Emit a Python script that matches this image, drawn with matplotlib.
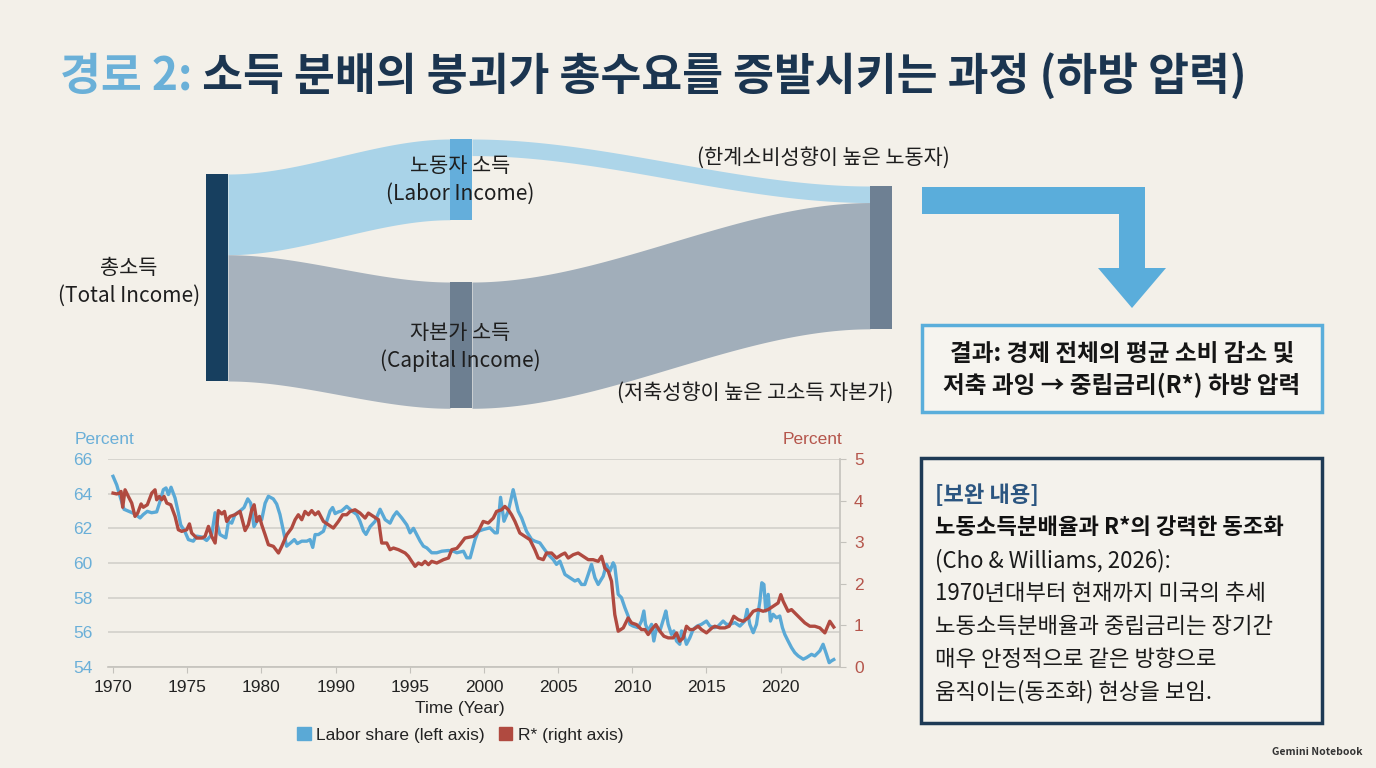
import numpy as np
import matplotlib
matplotlib.use('Agg')
import matplotlib.pyplot as plt
from matplotlib.patches import Rectangle, Polygon, Patch

plt.rcParams['font.family'] = ['Noto Sans CJK KR', 'DejaVu Sans']

W, H = 1376, 768
BG = '#F3F0E9'

# --- sankey data (income flows, % of total income) ---
flow_src = ['total', 'total', 'labor', 'capital']
flow_dst = ['labor', 'capital', 'consume', 'consume']
flow_val = [39, 61, 8, 61]
flow_col = ['#A9D3E8', '#A7B2BD', '#ADD5E9', '#A1AEBA']

# --- line chart data (x: position on the axis, 5 years per tick) ---
tick_labels = ['1970', '1975', '1980', '1990', '1995', '2000', '2005', '2010', '2015', '2020']

labor_x = [
    1970.0, 1970.25, 1970.47, 1970.74, 1971.15, 1971.48, 1971.82, 1972.04, 1972.31, 1972.6,
    1972.94, 1973.17, 1973.39, 1973.57, 1973.73, 1973.91, 1974.18, 1974.4, 1974.56, 1974.85,
    1975.08, 1975.41, 1975.64, 1975.98, 1976.31, 1976.65, 1976.88, 1977.03, 1977.21, 1977.6,
    1977.78, 1978.0, 1978.22, 1978.56, 1978.83, 1979.08, 1979.28, 1979.5, 1979.75, 1980.02,
    1980.25, 1980.47, 1980.8, 1981.03, 1981.25, 1981.48, 1981.7, 1981.97, 1982.22, 1982.42,
    1982.72, 1983.06, 1983.28, 1983.46, 1983.62, 1983.84, 1984.18, 1984.4, 1984.63, 1984.8,
    1984.97, 1985.19, 1985.4, 1985.75, 1986.1, 1986.43, 1986.65, 1986.88, 1987.05, 1987.33,
    1987.66, 1988.0, 1988.34, 1988.67, 1988.9, 1989.12, 1989.46, 1989.8, 1990.02, 1990.25,
    1990.47, 1990.7, 1990.92, 1991.15, 1991.48, 1991.82, 1992.16, 1992.6, 1992.94, 1993.17,
    1993.62, 1993.84, 1994.07, 1994.4, 1994.62, 1994.95, 1995.4, 1995.74, 1995.9, 1996.12,
    1996.35, 1996.64, 1996.97, 1997.31, 1997.54, 1997.87, 1998.21, 1998.43, 1998.77, 1999.0,
    1999.33, 1999.67, 1999.89, 2000.12, 2000.46, 2000.79, 2001.13, 2001.35, 2001.58, 2001.8,
    2002.03, 2002.25, 2002.48, 2002.7, 2003.04, 2003.26, 2003.49, 2003.71, 2003.82, 2004.05,
    2004.27, 2004.5, 2004.72, 2004.84, 2005.06, 2005.4, 2005.62, 2005.78, 2005.89, 2006.07,
    2006.3, 2006.45, 2006.63, 2006.86, 2007.13, 2007.26, 2007.42, 2007.64, 2007.8, 2007.98,
    2008.2, 2008.32, 2008.47, 2008.65, 2008.88, 2009.1, 2009.37, 2009.66, 2010.0, 2010.23,
    2010.56, 2010.79, 2011.12, 2011.35, 2011.57, 2011.91, 2012.25, 2012.58, 2012.74, 2012.92,
    2013.15, 2013.37, 2013.6, 2013.73, 2013.87, 2014.0, 2014.16, 2014.31, 2014.49, 2014.72,
    2014.94, 2015.12, 2015.28, 2015.5, 2015.73, 2015.95, 2016.18, 2016.52, 2016.74, 2017.08,
    2017.3, 2017.64, 2017.86, 2018.09, 2018.27, 2018.42, 2018.58]
labor_share = [
    65.0, 64.5, 63.85, 63.1, 62.95, 62.83, 62.6, 62.8, 62.98, 62.9,
    62.95, 63.56, 64.23, 64.33, 63.95, 64.37, 63.75, 62.9, 62.2, 61.8,
    61.35, 61.26, 61.55, 61.5, 61.3, 61.64, 62.9, 62.2, 61.64, 61.45,
    62.4, 62.3, 62.8, 63.0, 63.2, 63.7, 63.45, 62.1, 62.5, 62.5,
    63.45, 63.85, 63.7, 63.4, 62.8, 61.85, 60.97, 61.16, 61.35, 61.12,
    61.26, 61.26, 61.35, 60.9, 61.64, 61.64, 61.83, 62.4, 63.0, 63.2,
    62.85, 62.95, 63.0, 63.27, 63.0, 62.8, 62.4, 61.85, 61.65, 62.1,
    62.4, 63.1, 62.5, 62.3, 62.7, 62.95, 62.6, 62.2, 61.74, 62.0,
    61.64, 61.26, 60.97, 60.87, 60.59, 60.59, 60.68, 60.72, 60.68, 60.59,
    60.68, 60.3, 60.3, 61.35, 61.83, 61.93, 62.03, 61.74, 61.74, 63.79,
    62.41, 62.99, 64.23, 62.99, 62.6, 61.83, 61.36, 61.26, 61.16, 60.88,
    60.49, 60.2, 59.92, 60.11, 59.34, 59.15, 58.96, 59.05, 58.76, 58.76,
    59.34, 59.92, 59.15, 58.76, 59.24, 59.92, 59.53, 60.01, 59.82, 58.19,
    58.0, 57.42, 56.94, 56.46, 56.36, 56.27, 56.65, 57.23, 56.46, 56.08,
    56.46, 55.5, 56.27, 56.08, 56.84, 57.23, 56.46, 55.88, 56.08, 55.5,
    55.31, 56.08, 55.88, 55.31, 55.69, 56.17, 56.36, 56.46, 56.65, 56.36,
    56.27, 56.36, 56.65, 56.46, 56.46, 56.56, 56.36, 56.65, 57.32, 56.46,
    55.98, 56.46, 57.8, 58.86, 58.76, 57.23, 58.19, 56.65, 57.04, 56.84,
    56.94, 56.27, 55.88, 55.5, 55.12, 54.83, 54.64, 54.45, 54.54, 54.73,
    54.64, 54.93, 55.31, 54.73, 54.25, 54.35, 54.43]

rstar_x = [
    1970.0, 1970.25, 1970.43, 1970.54, 1970.65, 1970.81, 1971.03, 1971.26, 1971.48, 1971.66,
    1971.89, 1972.04, 1972.31, 1972.61, 1972.83, 1972.94, 1973.12, 1973.28, 1973.44, 1973.62,
    1973.89, 1974.18, 1974.4, 1974.63, 1974.97, 1975.15, 1975.3, 1975.64, 1975.98, 1976.2,
    1976.43, 1976.65, 1976.88, 1977.1, 1977.33, 1977.51, 1977.66, 1977.89, 1978.22, 1978.56,
    1978.9, 1979.12, 1979.35, 1979.51, 1979.69, 1979.87, 1980.02, 1980.25, 1980.47, 1980.81,
    1981.15, 1981.37, 1981.71, 1982.04, 1982.27, 1982.49, 1982.72, 1982.94, 1983.17, 1983.39,
    1983.62, 1983.84, 1984.18, 1984.52, 1984.85, 1985.19, 1985.48, 1985.75, 1985.98, 1986.31,
    1986.65, 1986.99, 1987.21, 1987.55, 1987.89, 1988.11, 1988.45, 1988.67, 1988.9, 1989.24,
    1989.46, 1989.69, 1989.91, 1990.13, 1990.36, 1990.58, 1990.81, 1991.03, 1991.26, 1991.48,
    1991.82, 1992.04, 1992.27, 1992.61, 1992.83, 1993.17,
    1993.38, 1993.72, 1994.28, 1994.62, 1994.95, 1995.29, 1995.63, 1995.85, 1996.19, 1996.41,
    1996.64, 1996.86, 1997.09, 1997.42, 1997.76, 1998.1, 1998.43, 1998.66, 1999.0, 1999.22,
    1999.56, 1999.89, 2000.23, 2000.46, 2000.68, 2001.02, 2001.35, 2001.69, 2002.03, 2002.36,
    2002.7, 2002.93, 2003.15, 2003.38, 2003.6, 2003.82, 2004.05, 2004.39, 2004.72, 2004.95,
    2005.28, 2005.62, 2005.85, 2006.07, 2006.3, 2006.59, 2006.86, 2007.13, 2007.42, 2007.76,
    2007.98, 2008.2, 2008.43, 2008.65, 2008.88, 2009.1, 2009.44, 2009.66, 2010.0, 2010.34,
    2010.56, 2010.9, 2011.24, 2011.53, 2011.84, 2012.14, 2012.47, 2012.81, 2013.15, 2013.48,
    2013.82, 2014.16, 2014.49, 2014.83, 2015.01, 2015.17, 2015.5, 2015.73, 2015.95, 2016.29,
    2016.63, 2016.97, 2017.3, 2017.64, 2017.98, 2018.31, 2018.58]
rstar = [
    4.18, 4.16, 4.18, 4.22, 3.84, 4.26, 4.1, 3.94, 3.62, 3.7,
    3.92, 3.84, 3.9, 4.18, 4.26, 4.02, 4.1, 4.02, 4.1, 3.94,
    3.9, 3.62, 3.3, 3.26, 3.3, 3.44, 3.22, 3.1, 3.1, 3.14,
    3.38, 3.14, 2.98, 3.76, 3.68, 3.74, 3.5, 3.62, 3.66, 3.74,
    3.28, 3.42, 3.78, 3.9, 3.5, 3.62, 3.42, 3.18, 2.94, 2.9,
    2.74, 2.9, 3.18, 3.34, 3.54, 3.66, 3.54, 3.74, 3.66, 3.76,
    3.66, 3.73, 3.5, 3.42, 3.34, 3.5, 3.66, 3.66, 3.74, 3.78,
    3.7, 3.58, 3.7, 3.62, 3.54, 2.98, 2.98, 2.82, 2.86, 2.82,
    2.78, 2.74, 2.66, 2.54, 2.42, 2.5, 2.46, 2.54, 2.46, 2.54,
    2.5, 2.54, 2.58, 2.62, 2.82, 2.85,
    2.94, 3.1, 3.14, 3.26, 3.5, 3.46, 3.58, 3.74, 3.78, 3.86,
    3.78, 3.66, 3.5, 3.22, 3.14, 3.06, 2.82, 2.62, 2.58, 2.74,
    2.74, 2.62, 2.7, 2.74, 2.62, 2.7, 2.74, 2.66, 2.58, 2.58,
    2.54, 2.66, 2.38, 2.3, 2.06, 1.26, 0.86, 0.94, 1.18, 1.06,
    1.02, 0.9, 0.9, 0.78, 0.9, 1.02, 0.86, 0.74, 0.7, 0.7,
    0.82, 0.62, 0.7, 0.98, 0.9, 0.9, 0.98, 0.9, 0.82, 0.93,
    0.98, 0.94, 0.94, 0.98, 1.22, 1.14, 1.1, 1.18, 1.34, 1.38,
    1.34, 1.38, 1.46, 1.54, 1.74, 1.58, 1.34, 1.38, 1.3, 1.18,
    1.06, 0.98, 0.98, 0.94, 0.82, 1.1, 0.96]

box2_lines = ['[보완 내용]', '노동소득분배율과 R*의 강력한 동조화', '(Cho & Williams, 2026):',
              '1970년대부터 현재까지 미국의 추세', '노동소득분배율과 중립금리는 장기간',
              '매우 안정적으로 같은 방향으로', '움직이는(동조화) 현상을 보임.']

fig = plt.figure(figsize=(W / 100, H / 100), dpi=100, facecolor=BG)

# overlay in pixel coordinates for the diagram part
ov = fig.add_axes([0, 0, 1, 1])
ov.set_xlim(0, W)
ov.set_ylim(H, 0)
ov.axis('off')

# title
t1 = ov.text(60, 77, '경로 2:', fontsize=32, fontweight='bold', color='#6AB0D8', va='center', ha='left')
ov.annotate(' 소득 분배의 붕괴가 총수요를 증발시키는 과정 (하방 압력)', xy=(1, 0), xycoords=t1,
            va='bottom', ha='left', fontsize=32, fontweight='bold', color='#1B3550')

# sankey
node_x = {'total': 206, 'labor': 450, 'capital': 450, 'consume': 870}
node_top = {'total': 174, 'labor': 139, 'capital': 282, 'consume': 186}
node_col = {'total': '#173F5F', 'labor': '#64AEDB', 'capital': '#6D7F91', 'consume': '#6E8093'}
NW = 22
scale = 207 / sum(v for s, v in zip(flow_src, flow_val) if s == 'total')

out_off = {k: 0.0 for k in node_x}
in_off = {k: 0.0 for k in node_x}
for s, d, v, c in zip(flow_src, flow_dst, flow_val, flow_col):
    h = v * scale
    y0 = node_top[s] + out_off[s]
    y1 = node_top[d] + in_off[d]
    out_off[s] += h
    in_off[d] += h
    x0, x1 = node_x[s] + NW, node_x[d]
    xs = np.linspace(x0, x1, 150)
    u = (xs - x0) / (x1 - x0)
    top = y0 + (y1 - y0) * u * u * (3 - 2 * u)
    ov.fill_between(xs, top, top + h, color=c, lw=0)

for k in node_x:
    hh = max(out_off[k], in_off[k])
    ov.add_patch(Rectangle((node_x[k], node_top[k]), NW, hh, color=node_col[k], lw=0))

lab = dict(fontsize=15, color='#1E1E1E', ha='center', va='center', linespacing=1.35)
ov.text(129, 282, '총소득\n(Total Income)', **lab)
ov.text(460, 180, '노동자 소득\n(Labor Income)', **lab)
ov.text(460, 347, '자본가 소득\n(Capital Income)', **lab)
ov.text(823, 158, '(한계소비성향이 높은 노동자)', **lab)
ov.text(755, 393, '(저축성향이 높은 고소득 자본가)', **lab)

# elbow arrow
ov.add_patch(Polygon([(922, 187), (1145, 187), (1145, 268), (1166, 268), (1132, 308),
                      (1098, 268), (1119, 268), (1119, 214), (922, 214)],
                     closed=True, color='#5AADDB', lw=0))

# result box
ov.add_patch(Rectangle((922, 325), 400, 87, facecolor='#F6F4EF', edgecolor='#5AAEDB', lw=2.5))
ov.text(1122, 370, '결과: 경제 전체의 평균 소비 감소 및\n저축 과잉 → 중립금리(R*) 하방 압력',
        fontsize=17, fontweight='bold', color='#151515', ha='center', va='center', linespacing=1.3)

# supplement box
ov.add_patch(Rectangle((921, 458), 401, 265, facecolor='#F4F2EC', edgecolor='#1E3A55', lw=2.5))
for i, line in enumerate(box2_lines):
    if i == 0:
        kw = dict(color='#2B5580', fontweight='bold')
    elif i == 1:
        kw = dict(color='#111111', fontweight='bold')
    else:
        kw = dict(color='#1A1A1A')
    ov.text(935, 495 + 32.8 * i, line, fontsize=16, ha='left', va='center', **kw)

ov.text(1363, 752, 'Gemini Notebook', fontsize=7.5, fontweight='bold', color='#333333',
        ha='right', va='center')

# line chart
CF = 'Liberation Sans'
BLUE, RED = '#5AA9D6', '#B04A40'
ax = fig.add_axes([108 / W, 1 - 667 / H, (840 - 108) / W, (667 - 459) / H])
ax.set_facecolor('none')
ax.plot(labor_x, labor_share, color=BLUE, lw=2.4, solid_joinstyle='round')
ax.set_xlim(1969.66, 2019.0)
ax.set_ylim(54, 66)
ax.set_yticks(range(54, 67, 2))
ax.set_xticks([1970 + 5 * i for i in range(len(tick_labels))])
ax.set_xticklabels(tick_labels)
ax.yaxis.grid(True, color='#D2D0CA', lw=1.2)
ax.set_axisbelow(True)
for sp in ['top', 'left', 'right']:
    ax.spines[sp].set_visible(False)
ax.spines['bottom'].set_color('#C4C2BC')
ax.spines['bottom'].set_linewidth(1.2)
ax.tick_params(axis='x', length=4, color='#C4C2BC', pad=5, labelsize=12.5, labelcolor='#222222')
ax.tick_params(axis='y', length=0, pad=11, labelsize=12.5, labelcolor='#6AAFD8')
for t in ax.get_xticklabels() + ax.get_yticklabels():
    t.set_family(CF)

ax2 = ax.twinx()
ax2.plot(rstar_x, rstar, color=RED, lw=2.4, solid_joinstyle='round')
ax2.set_ylim(0, 5)
ax2.set_yticks(range(0, 6))
for sp in ['top', 'left', 'bottom']:
    ax2.spines[sp].set_visible(False)
ax2.spines['right'].set_color('#C4C2BC')
ax2.spines['right'].set_linewidth(1.2)
ax2.tick_params(axis='y', length=4, color='#C4C2BC', pad=6, labelsize=12.5, labelcolor='#B5564C')
for t in ax2.get_yticklabels():
    t.set_family(CF)

fig.text(75 / W, 1 - 440 / H, 'Percent', fontsize=12.5, color='#6AAFD8', family=CF, va='center')
fig.text(842 / W, 1 - 440 / H, 'Percent', fontsize=12.5, color='#B5564C', family=CF, va='center', ha='right')
fig.text(460 / W, 1 - 708 / H, 'Time (Year)', fontsize=12.5, color='#222222', family=CF,
         ha='center', va='center')
fig.legend(handles=[Patch(color=BLUE, label='Labor share (left axis)'),
                    Patch(color=RED, label='R* (right axis)')],
           loc='center', bbox_to_anchor=(460 / W, 1 - 735 / H), ncol=2, frameon=False,
           prop={'family': CF, 'size': 12.5}, handlelength=0.8, handleheight=0.8,
           handletextpad=0.3, columnspacing=0.8, labelcolor='#222222')

fig.savefig('out.png', dpi=100, facecolor=BG)
